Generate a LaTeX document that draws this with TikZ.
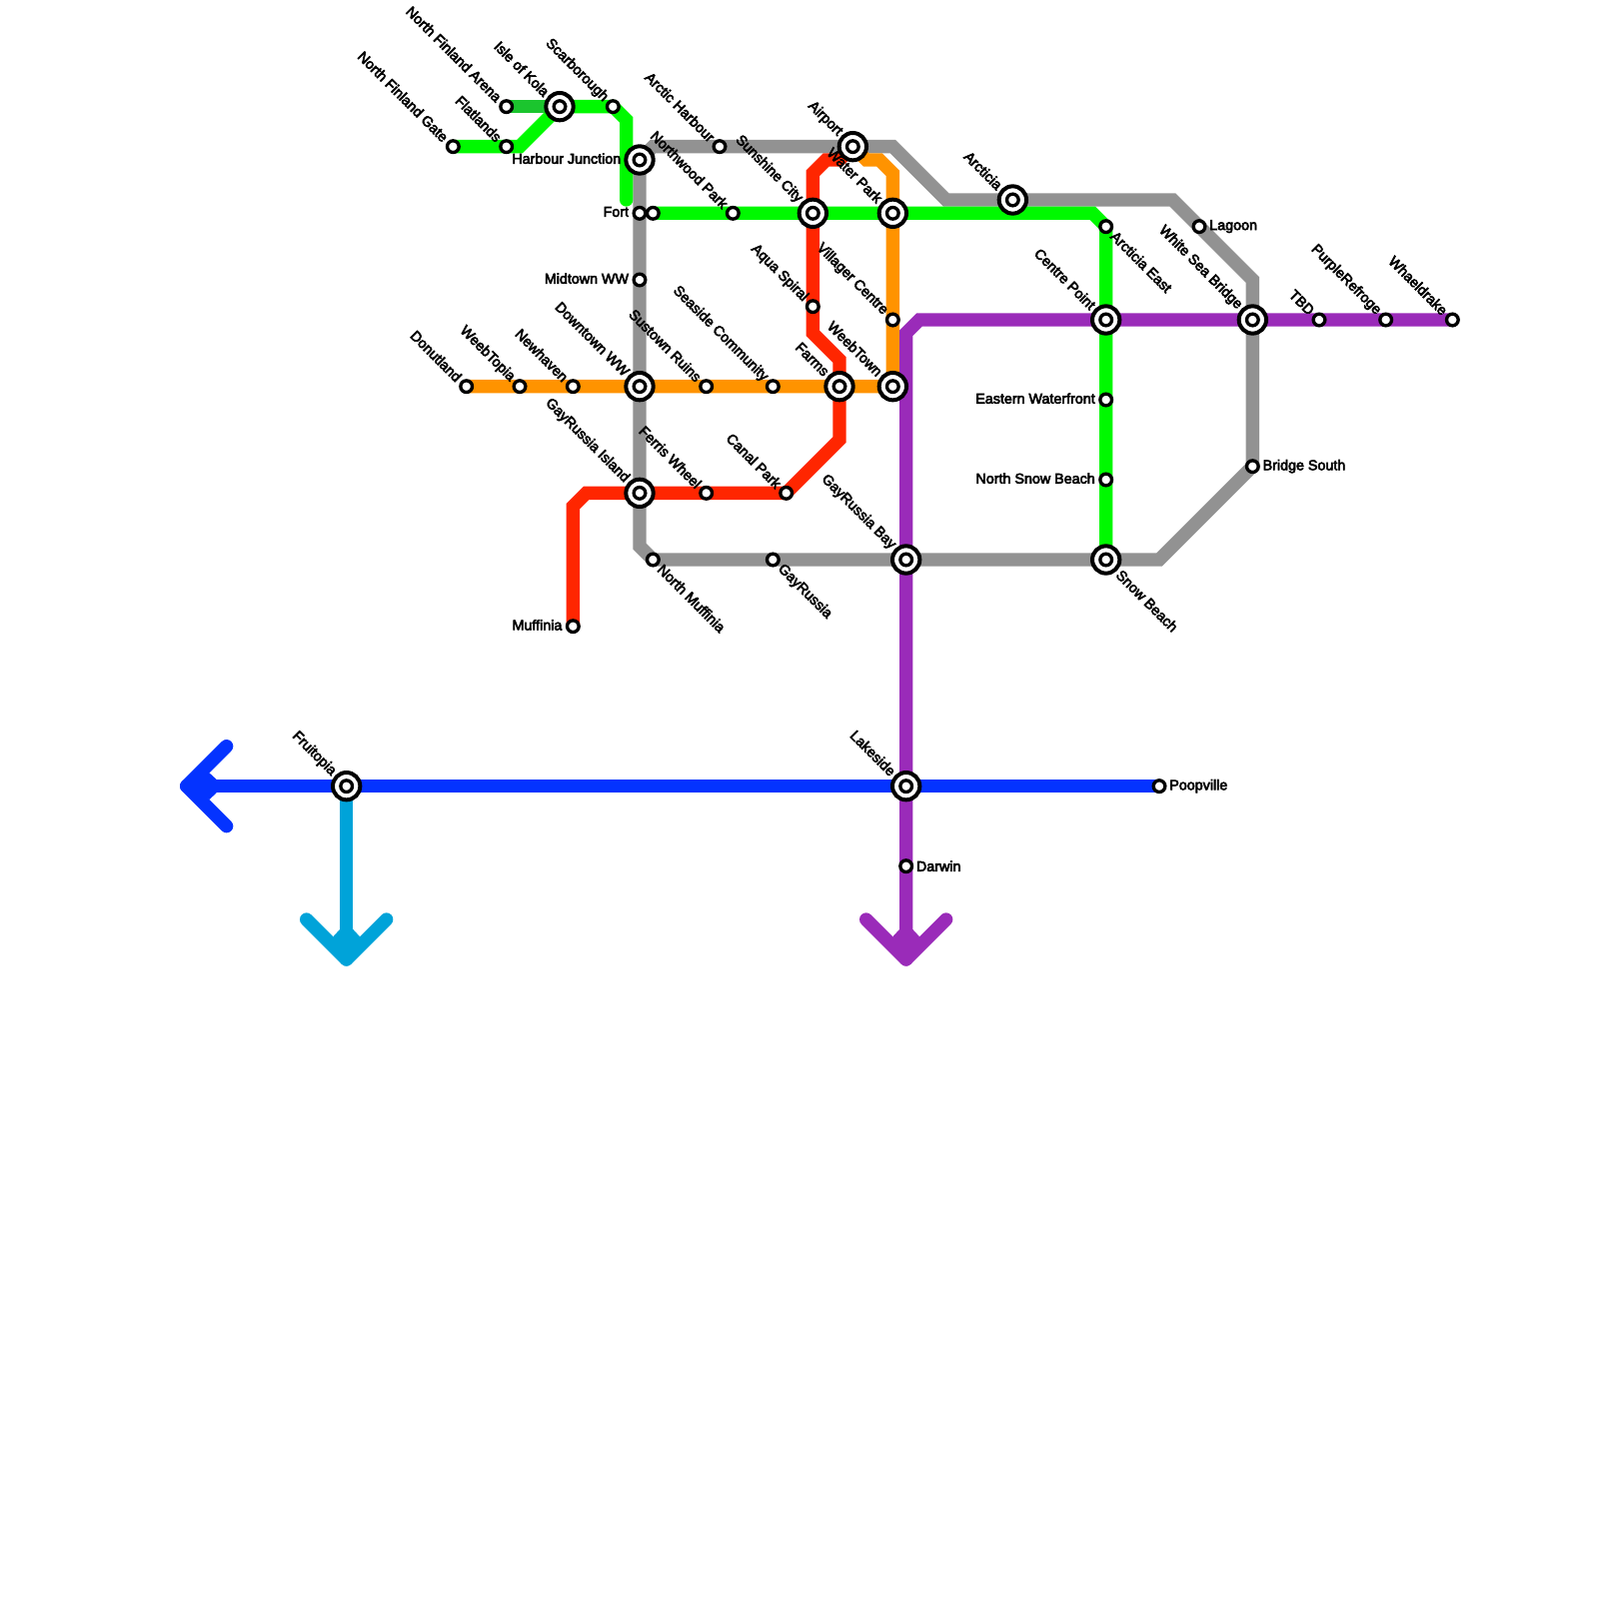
\documentclass[tikz,border=0pt]{standalone}
\usepackage{fontspec}
\newfontfamily\stnfont{Liberation Sans}[FakeBold=4]
\usetikzlibrary{backgrounds}
\definecolor{greyline}{HTML}{929292}
\definecolor{greenline}{HTML}{00F900}
\definecolor{forestline}{HTML}{1BC52E}
\definecolor{orangeline}{HTML}{FF9300}
\definecolor{redline}{HTML}{FF2600}
\definecolor{purpleline}{HTML}{9A2BB9}
\definecolor{blueline}{HTML}{0433FF}
\definecolor{cyanline}{HTML}{00A3D9}
\tikzset{
	stop/.style={circle,draw=black,fill=white,line width=.5mm,minimum size=1.75mm,inner sep=0pt,outer sep=0pt},
	hub/.style={circle,draw=black,fill=white,line width=.6mm,minimum size=4.1mm,inner sep=0pt,outer sep=0pt,
		path picture={\draw[line width=.5mm] (path picture bounding box.center) circle (.875mm);}},
	metro/.style={line width=2mm,line cap=round},
	headline/.style={metro,line join=round},
	stntext/.style={font=\stnfont\fontsize{6.1}{7}\selectfont,inner sep=.6mm,text=black},
	tnw/.style={stntext,rotate=-45,anchor=east},
	tse/.style={stntext,rotate=-45,anchor=west},
	tw/.style={stntext,anchor=east,inner sep=.7mm,yshift=.2mm},
	te/.style={stntext,anchor=west}
}
\begin{document}
\begin{tikzpicture}[x=2mm,y=-2mm]
\useasboundingbox (0,0) rectangle (120,120);
% stations
\node[stop] (gate) at (34,11) {};
\node[stop] (flatlands) at (38,11) {};
\node[stop] (arena) at (38,8) {};
\node[hub] (kola) at (42,8) {};
\node[stop] (scarborough) at (46,8) {};
\node[hub] (harbour) at (48,12) {};
\node[stop] (fort) at (48,16) {};
\node[stop] (fortb) at (49,16) {};
\node[stop] (northwood) at (55,16) {};
\node[hub] (sunshine) at (61,16) {};
\node[hub] (waterpark) at (67,16) {};
\node[stop] (arctic) at (54,11) {};
\node[hub] (airport) at (64,11) {};
\node[hub] (arcticia) at (76,15) {};
\node[stop] (arcticiae) at (83,17) {};
\node[stop] (lagoon) at (90,17) {};
\node[hub] (centre) at (83,24) {};
\node[hub] (whitesea) at (94,24) {};
\node[stop] (tbd) at (99,24) {};
\node[stop] (refroge) at (104,24) {};
\node[stop] (whaeldrake) at (109,24) {};
\node[stop] (midtown) at (48,21) {};
\node[stop] (aqua) at (61,23) {};
\node[stop] (villager) at (67,24) {};
\node[stop] (donutland) at (35,29) {};
\node[stop] (weebtopia) at (39,29) {};
\node[stop] (newhaven) at (43,29) {};
\node[hub] (downtown) at (48,29) {};
\node[stop] (sustown) at (53,29) {};
\node[stop] (seaside) at (58,29) {};
\node[hub] (farms) at (63,29) {};
\node[hub] (weebtown) at (67,29) {};
\node[stop] (eastern) at (83,30) {};
\node[stop] (northsnow) at (83,36) {};
\node[stop] (bridge) at (94,35) {};
\node[hub] (island) at (48,37) {};
\node[stop] (ferris) at (53,37) {};
\node[stop] (canal) at (59,37) {};
\node[stop] (muffinian) at (49,42) {};
\node[stop] (gayrussia) at (58,42) {};
\node[hub] (bay) at (68,42) {};
\node[hub] (snow) at (83,42) {};
\node[stop] (muffinia) at (43,47) {};
\node[hub] (fruitopia) at (26,59) {};
\node[hub] (lakeside) at (68,59) {};
\node[stop] (poopville) at (87,59) {};
\node[stop] (darwin) at (68,65) {};
\coordinate (bluetip) at (14,59);
\coordinate (cyantip) at (26,72);
\coordinate (purpletip) at (68,72);
\coordinate (greenend) at (47,15);
% lines
\begin{scope}[on background layer]
\draw[metro,greyline] (harbour.center) -- (49,11) -- (67,11) -- (71,15) -- (88,15) -- (94,21) -- (94,35) -- (87,42) -- (49,42) -- (48,41) -- cycle;
\draw[metro,redline] (muffinia.center) -- (43,38) -- (44,37) -- (59,37) -- (63,33) -- (63,27) -- (61,25) -- (61,13) -- (62,12) -- (63,12) -- (airport.center);
\draw[metro,orangeline] (donutland.center) -- (weebtown.center) -- (67,13) -- (66,12) -- (65,12) -- (airport.center);
\draw[metro,forestline] (arena.center) -- (kola.center);
\draw[metro,greenline] (gate.center) -- (39,11) -- (kola.center) -- (scarborough.center) -- (47,9) -- (greenend);
\draw[metro,greenline] (fortb.center) -- (82,16) -- (83,17) -- (snow.center);
\draw[metro,purpleline] (whaeldrake.center) -- (69,24) -- (68,25) -- (purpletip);
\draw[headline,purpleline] (65,69) -- (purpletip) -- (71,69);
\fill[purpleline] (purpletip) -- (67,70.29) -- (67.5,69.75) -- (68.5,69.75) -- (69,70.29) -- cycle;
\draw[metro,cyanline] (fruitopia.center) -- (cyantip);
\draw[headline,cyanline] (23,69) -- (cyantip) -- (29,69);
\fill[cyanline] (cyantip) -- (25,70.29) -- (25.5,69.75) -- (26.5,69.75) -- (27,70.29) -- cycle;
\draw[metro,blueline] (bluetip) -- (poopville.center);
\draw[headline,blueline] (17,56) -- (bluetip) -- (17,62);
\fill[blueline] (bluetip) -- (15.71,58) -- (16.25,58.5) -- (16.25,59.5) -- (15.71,60) -- cycle;
\end{scope}
% labels
\node[tnw] (gatet) at (gate.north west) {North Finland Gate};
\node[tnw] (flatlandst) at (flatlands.north west) {Flatlands};
\node[tnw] (arenat) at (arena.north west) {North Finland Arena};
\node[tnw] (kolat) at (kola.north west) {Isle of Kola};
\node[tnw] (scarboroughT) at (scarborough.north west) {Scarborough};
\node[tw] (harbourt) at (harbour.west) {Harbour Junction};
\node[tw] (fortt) at (fort.west) {Fort};
\node[tnw] (northwoodt) at (northwood.north west) {Northwood Park};
\node[tnw] (sunshinet) at (sunshine.north west) {Sunshine City};
\node[tnw] (waterparkt) at (waterpark.north west) {Water Park};
\node[tnw] (arctict) at (arctic.north west) {Arctic Harbour};
\node[tnw] (airportt) at (airport.north west) {Airport};
\node[tnw] (arcticiat) at (arcticia.north west) {Arcticia};
\node[tse] (arcticiaet) at (arcticiae.south east) {Arcticia East};
\node[te] (lagoont) at (lagoon.east) {Lagoon};
\node[tnw] (centret) at (centre.north west) {Centre Point};
\node[tnw] (whiteseat) at (whitesea.north west) {White Sea Bridge};
\node[tnw] (tbdt) at (tbd.north west) {TBD};
\node[tnw] (refroget) at (refroge.north west) {PurpleRefroge};
\node[tnw] (whaeldraket) at (whaeldrake.north west) {Whaeldrake};
\node[tw] (midtownt) at (midtown.west) {Midtown WW};
\node[tnw] (aquat) at (aqua.north west) {Aqua Spiral};
\node[tnw] (villagert) at (villager.north west) {Villager Centre};
\node[tnw] (donutlandt) at (donutland.north west) {Donutland};
\node[tnw] (weebtopiat) at (weebtopia.north west) {WeebTopia};
\node[tnw] (newhavent) at (newhaven.north west) {Newhaven};
\node[tnw] (downtownt) at (downtown.north west) {Downtown WW};
\node[tnw] (sustownt) at (sustown.north west) {Sustown Ruins};
\node[tnw] (seasidet) at (seaside.north west) {Seaside Community};
\node[tnw] (farmst) at (farms.north west) {Farms};
\node[tnw] (weebtownt) at (weebtown.north west) {WeebTown};
\node[tw] (easternt) at (eastern.west) {Eastern Waterfront};
\node[tw] (northsnowt) at (northsnow.west) {North Snow Beach};
\node[te] (bridget) at (bridge.east) {Bridge South};
\node[tnw] (islandt) at (island.north west) {GayRussia Island};
\node[tnw] (ferrist) at (ferris.north west) {Ferris Wheel};
\node[tnw] (canalt) at (canal.north west) {Canal Park};
\node[tse] (muffiniant) at (muffinian.south east) {North Muffinia};
\node[tse] (gayrussiat) at (gayrussia.south east) {GayRussia};
\node[tnw] (bayt) at (bay.north west) {GayRussia Bay};
\node[tse] (snowt) at (snow.south east) {Snow Beach};
\node[tw] (muffiniat) at (muffinia.west) {Muffinia};
\node[tnw] (fruitopiat) at (fruitopia.north west) {Fruitopia};
\node[tnw] (lakesidet) at (lakeside.north west) {Lakeside};
\node[te] (poopvillet) at (poopville.east) {Poopville};
\node[te] (darwint) at (darwin.east) {Darwin};
\end{tikzpicture}
\end{document}
